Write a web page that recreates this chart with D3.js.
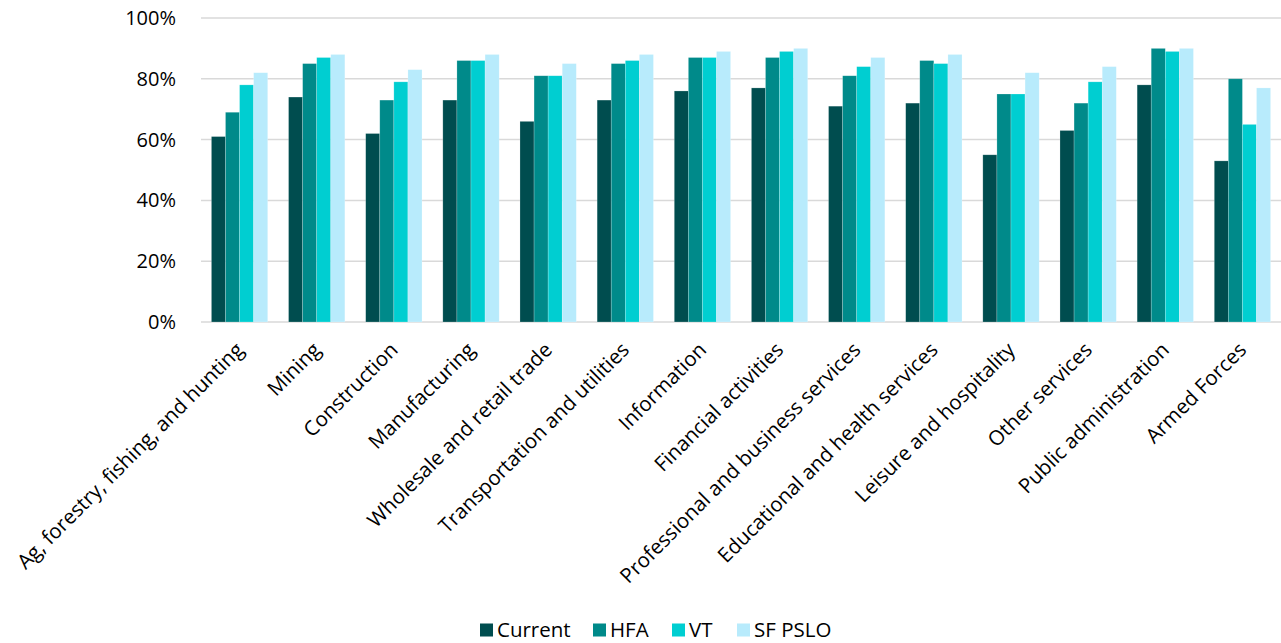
<!DOCTYPE html>
<html>
<head>
<meta charset="utf-8">
<script src="https://cdn.jsdelivr.net/npm/d3@7"></script>
<style>
body { margin: 0; background: #fff; }
svg text { font-family: "Open Sans", sans-serif; fill: #000; }
</style>
</head>
<body>
<svg id="chart" width="1281" height="643"></svg>
<script>
var width = 1281;
var height = 643;

var categories = ['Ag, forestry, fishing, and hunting', 'Mining', 'Construction', 'Manufacturing',
	'Wholesale and retail trade', 'Transportation and utilities', 'Information', 'Financial activities',
	'Professional and business services', 'Educational and health services', 'Leisure and hospitality',
	'Other services', 'Public administration', 'Armed Forces'];
var seriesNames = ['Current', 'HFA', 'VT', 'SF PSLO'];
var current = [61, 74, 62, 73, 66, 73, 76, 77, 71, 72, 55, 63, 78, 53];
var hfa     = [69, 85, 73, 86, 81, 85, 87, 87, 81, 86, 75, 72, 90, 80];
var vt      = [78, 87, 79, 86, 81, 86, 87, 89, 84, 85, 75, 79, 89, 65];
var sfpslo  = [82, 88, 83, 88, 85, 88, 89, 90, 87, 88, 82, 84, 90, 77];
var yTicks = [0, 20, 40, 60, 80, 100];

var seriesValues = [current, hfa, vt, sfpslo];
var colors = ['#004D4F', '#008A8A', '#00CED1', '#B8EBFC'];

var plotLeft = 201, plotRight = 1281, plotTop = 18, plotBottom = 322;

var svg = d3.select('#chart');

var x = d3.scaleBand().domain(categories).range([plotLeft, plotRight]).paddingInner(0.27).paddingOuter(0.135);
var xs = d3.scaleBand().domain(seriesNames).range([0, x.bandwidth()]);
var y = d3.scaleLinear().domain([0, 100]).range([plotBottom, plotTop]);

// gridlines
svg.append('g')
	.selectAll('line')
	.data(yTicks)
	.join('line')
		.attr('x1', plotLeft)
		.attr('x2', plotRight)
		.attr('y1', d => y(d))
		.attr('y2', d => y(d))
		.attr('stroke', '#D9D9D9')
		.attr('stroke-width', 1.5);

// y labels
var yAxis = svg.append('g')
	.attr('transform', `translate(${plotLeft - 22}, 0)`)
	.call(d3.axisLeft(y).tickValues(yTicks).tickFormat(d => d + '%').tickSize(0));
yAxis.select('.domain').remove();
yAxis.selectAll('text')
	.attr('font-size', 20)
	.attr('font-family', '"Open Sans", sans-serif')
	.attr('fill', '#000');

// bars
seriesNames.forEach(function(name, si){
	svg.append('g')
		.selectAll('rect')
		.data(seriesValues[si])
		.join('rect')
			.attr('x', (d, i) => x(categories[i]) + xs(name))
			.attr('y', d => y(d))
			.attr('width', xs.bandwidth())
			.attr('height', d => y(0) - y(d))
			.attr('fill', colors[si])
			.attr('stroke', '#ffffff')
			.attr('stroke-opacity', 0.35)
			.attr('stroke-width', 0.6);
});

// x labels
var xAxis = svg.append('g')
	.attr('transform', `translate(0, ${plotBottom})`)
	.call(d3.axisBottom(x).tickSize(0));
xAxis.select('.domain').remove();
xAxis.selectAll('text')
	.attr('font-size', 20.5)
	.attr('font-family', '"Open Sans", sans-serif')
	.attr('fill', '#000')
	.attr('text-anchor', 'end')
	.attr('dy', '0.35em')
	.attr('transform', 'translate(-2, 22) rotate(-45)');

// legend
var legendX = [480, 593, 672, 737];
var legend = svg.append('g');
seriesNames.forEach(function(name, i){
	const g = legend.append('g').attr('transform', `translate(${legendX[i]}, 630)`);
	g.append('rect')
		.attr('x', 0).attr('y', -6.5)
		.attr('width', 13).attr('height', 13)
		.attr('fill', colors[i]);
	g.append('text')
		.attr('x', 17).attr('y', 0)
		.attr('dy', '0.35em')
		.attr('font-size', 20.5)
		.text(name);
});
</script>
</body>
</html>
